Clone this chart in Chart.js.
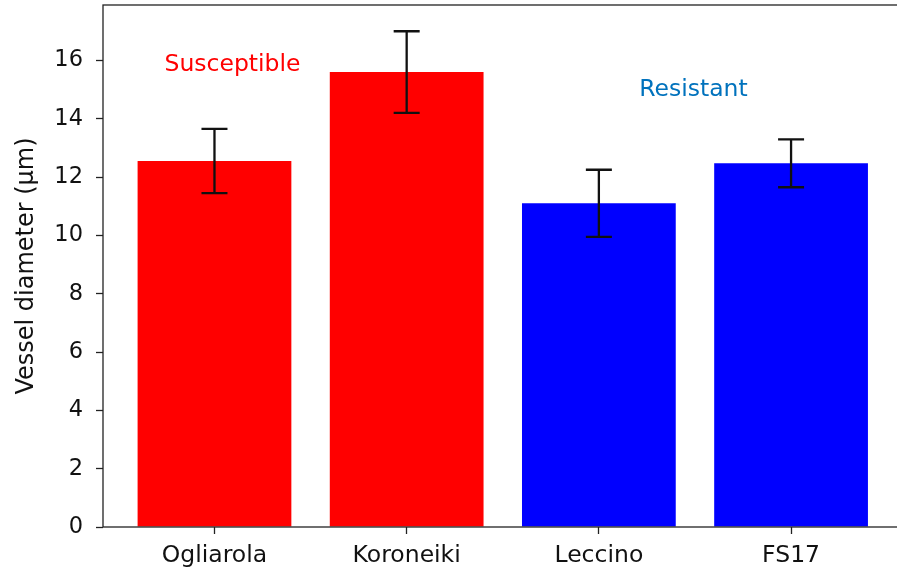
<!DOCTYPE html>
<html>
<head>
<meta charset="utf-8">
<script src="https://cdn.jsdelivr.net/npm/chart.js@4/dist/chart.umd.min.js"></script>
<style>
  html, body { margin: 0; padding: 0; background: #fff; overflow: hidden; }
  #wrap { width: 897px; height: 570px; overflow: hidden; }
  canvas { display: block; }
</style>
</head>
<body>
<div id="wrap"><canvas id="c" width="910" height="570"></canvas></div>
<script>
// Cultivars, mean vessel diameter and its error
const cultivars = ['Ogliarola', 'Koroneiki', 'Leccino', 'FS17'];
const diameters = [12.55, 15.6, 11.1, 12.47];
const errors = [1.1, 1.4, 1.15, 0.82];
const barColors = ['#ff0000', '#ff0000', '#0000ff', '#0000ff'];
const yTicks = [0, 2, 4, 6, 8, 10, 12, 14, 16];
// Group annotations: [text, x (category units, left edge), y (value), colour]
const groupLabels = [
  ['Susceptible', -0.26, 15.84, '#ff0000'],
  ['Resistant', 2.21, 14.98, '#0072bd']
];

const FONT = 'DejaVu Sans';

const errorBars = {
  id: 'errorBars',
  afterDatasetsDraw(chart) {
    const { ctx, scales: { x, y } } = chart;
    ctx.save();
    ctx.strokeStyle = '#111';
    ctx.lineWidth = 2.3;
    diameters.forEach((v, i) => {
      const px = x.getPixelForValue(i);
      const top = y.getPixelForValue(v + errors[i]);
      const bot = y.getPixelForValue(v - errors[i]);
      ctx.beginPath();
      ctx.moveTo(px, top); ctx.lineTo(px, bot);
      ctx.moveTo(px - 13, top); ctx.lineTo(px + 13, top);
      ctx.moveTo(px - 13, bot); ctx.lineTo(px + 13, bot);
      ctx.stroke();
    });
    ctx.restore();
  }
};

const frameAndText = {
  id: 'frameAndText',
  afterDraw(chart) {
    const { ctx, chartArea: a, scales: { x, y } } = chart;
    ctx.save();
    ctx.strokeStyle = '#222';
    ctx.lineWidth = 1.3;
    ctx.strokeRect(a.left, a.top, a.right - a.left, a.bottom - a.top);
    ctx.font = '23.5px "' + FONT + '"';
    ctx.textAlign = 'left';
    ctx.textBaseline = 'middle';
    groupLabels.forEach(([t, gx, gy, c]) => {
      ctx.fillStyle = c;
      ctx.fillText(t, x.getPixelForValue(gx), y.getPixelForValue(gy));
    });
    ctx.restore();
  }
};

new Chart(document.getElementById('c'), {
  type: 'bar',
  data: {
    datasets: [{
      data: cultivars.map((_, i) => ({ x: i, y: diameters[i] })),
      backgroundColor: barColors,
      borderWidth: 0,
      barPercentage: 0.8,
      categoryPercentage: 1.0
    }]
  },
  options: {
    responsive: false,
    animation: false,
    devicePixelRatio: 1,
    layout: { padding: { top: 5, right: 4, left: 0, bottom: 0 } },
    plugins: { legend: { display: false }, tooltip: { enabled: false } },
    scales: {
      x: {
        type: 'linear',
        offset: false,
        min: -0.58,
        max: 3.598,
        afterBuildTicks: s => { s.ticks = cultivars.map((_, i) => ({ value: i })); },
        afterFit: s => { s.height = 43; s.paddingLeft = 0; s.paddingRight = 0; },
        ticks: {
          callback: v => cultivars[v] ?? '',
          color: '#111',
          font: { family: FONT, size: 23.5 },
          padding: 8,
          maxRotation: 0,
          autoSkip: false
        },
        grid: { offset: false, drawOnChartArea: false, drawTicks: true, tickLength: 7, tickColor: '#222', tickWidth: 1.3 },
        border: { display: false }
      },
      y: {
        min: 0,
        max: 17.9,
        afterBuildTicks: s => { s.ticks = yTicks.map(v => ({ value: v })); },
        afterFit: s => { s.width = 103; s.paddingTop = 0; s.paddingBottom = 0; },
        ticks: {
          color: '#111',
          font: { family: FONT, size: 22.5 },
          padding: 13
        },
        grid: { drawOnChartArea: false, drawTicks: true, tickLength: 7, tickColor: '#222', tickWidth: 1.3 },
        border: { display: false },
        title: {
          display: true,
          text: 'Vessel diameter (μm)',
          color: '#111',
          font: { family: FONT, size: 24 },
          padding: { top: 12, bottom: 0 }
        }
      }
    }
  },
  plugins: [errorBars, frameAndText]
});
</script>
</body>
</html>
